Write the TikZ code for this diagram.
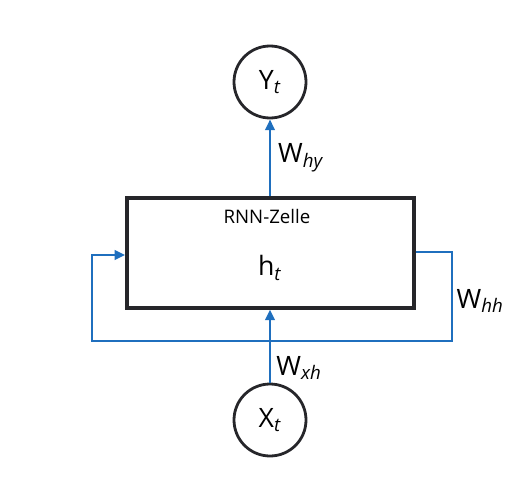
\documentclass[tikz,border=0pt]{standalone}
\usepackage{fontspec}
\setmainfont{Open Sans}
\usetikzlibrary{arrows.meta,positioning}
\definecolor{rnnblue}{RGB}{31,111,190}
\definecolor{rnndark}{RGB}{38,38,42}
\newcommand{\sub}[1]{\textsubscript{\textit{#1}}}

\begin{document}
\begin{tikzpicture}[x=0.75pt, y=-0.75pt, >={Triangle[length=8pt,width=7pt]},
    io/.style={circle, draw=rnndark, line width=2.1pt, minimum size=54pt, inner sep=0pt,
               font=\fontsize{20}{24}\selectfont},
    cellbox/.style={draw=rnndark, line width=2.8pt, minimum width=215pt, minimum height=82pt, inner sep=0pt},
    flow/.style={draw=rnnblue, line width=2.2pt},
    wlabel/.style={font=\fontsize{20}{24}\selectfont}]
    \useasboundingbox (0,0) rectangle (523,481);

    % cell and inputs/outputs
    \node [cellbox] (cell) at (270.5,253) {};
    \node [font=\fontsize{14}{17}\selectfont] (cellname) at (267,216) {RNN-Zelle};
    \node [font=\fontsize{20}{24}\selectfont] (state) at (270,268) {h\sub{t}};
    \node [io] (y) at (270,82) {Y\sub{t}};
    \node [io] (x) at (270,420) {X\sub{t}};

    % recurrent loop
    \coordinate (rr) at (452,252);
    \coordinate (rb) at (452,341);
    \coordinate (lb) at (92,341);
    \coordinate (lt) at (92,255);
    \coordinate (cellin) at (cell.west |- lt);

    % connections
    \draw [flow, ->] (cell.north -| y) -- (y.south);
    \draw [flow, ->] (x.north) -- (cell.south -| x);
    \draw [flow, ->] (cell.east |- rr) -- (rr) -- (rb) -- (lb) -- (lt) -- (cellin);

    % weights
    \node [wlabel] (why) at (301,158) {W\sub{hy}};
    \node [wlabel] (whh) at (480,301) {W\sub{hh}};
    \node [wlabel] (wxh) at (299,368) {W\sub{xh}};
\end{tikzpicture}
\end{document}
